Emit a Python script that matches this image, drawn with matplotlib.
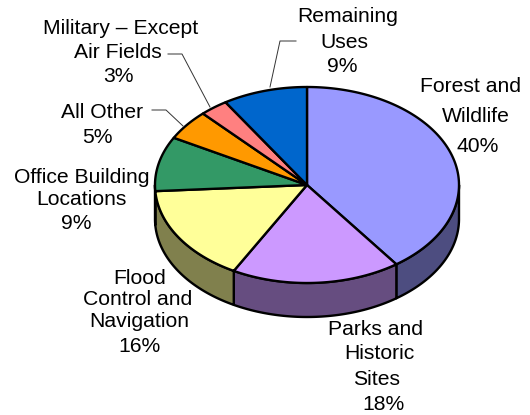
import numpy as np
import matplotlib
matplotlib.use("Agg")
import matplotlib.pyplot as plt
from matplotlib.patches import Polygon

plt.rcParams['font.family'] = ['Liberation Sans', 'DejaVu Sans']

kategorie = ["Forest and Wildlife", "Parks and Historic Sites", "Flood Control and Navigation",
             "Office Building Locations", "All Other", "Military – Except Air Fields", "Remaining Uses"]
wartosci = [40, 18, 16, 9, 5, 3, 9]
kolory = ["#9999ff", "#cc99ff", "#ffff99", "#339966", "#ff9900", "#ff8080", "#0066cc"]
boki = ["#4d4d80", "#664d80", "#80804d", "#1a4d33", "#804d00", "#804040", "#003366"]

cx, cy = 307, 185
rx, ry = 152, 98
glebokosc = 34


def punkty(a1, a2):
    # katy zgodnie z zegarem od gory
    t = np.radians(np.linspace(a1, a2, max(int(a2 - a1) * 2, 2)))
    return np.column_stack([cx + rx * np.sin(t), cy - ry * np.cos(t)])


fig = plt.figure(figsize=(5.3, 4.15), dpi=100)
ax = fig.add_axes([0, 0, 1, 1])
ax.set_xlim(0, 530)
ax.set_ylim(415, 0)
ax.axis("off")

granice = np.cumsum([0] + wartosci) * 3.6

# boki tortu (tylko przednia polowa)
for i in range(len(wartosci)):
    a1, a2 = max(granice[i], 90), min(granice[i + 1], 270)
    if a2 <= a1:
        continue
    gora = punkty(a1, a2)
    dol = (gora + [0, glebokosc])[::-1]
    ax.add_patch(Polygon(np.vstack([gora, dol]), closed=True, fc=boki[i], ec="black", lw=1.7, joinstyle="round"))

# wierzch
for i in range(len(wartosci)):
    luk = punkty(granice[i], granice[i + 1])
    ax.add_patch(Polygon(np.vstack([[cx, cy], luk]), closed=True, fc=kolory[i], ec="black", lw=1.7, joinstyle="round"))

# linie odniesienia
ax.plot([296, 280, 270], [41, 41, 87], color="#333333", lw=0.7)
ax.plot([168, 182, 210], [54, 54, 107], color="#333333", lw=0.7)
ax.plot([152, 166, 183], [110, 110, 126], color="#333333", lw=0.7)


def napis(x, y, s):
    ax.text(x, y + 6.5, s, ha="center", va="baseline", fontsize=15.2, color="black")


napis(348, 15, "Remaining")
napis(344, 42, "Uses")
napis(342, 65, "9%")
napis(471, 86, "Forest and")
napis(476, 115, "Wildlife")
napis(478, 145, "40%")
napis(376, 328, "Parks and")
napis(379, 352, "Historic")
napis(377, 378, "Sites")
napis(383, 403, "18%")
napis(140, 277, "Flood")
napis(138, 298, "Control and")
napis(139, 320, "Navigation")
napis(140, 345, "16%")
napis(82, 176, "Office Building")
napis(81, 198, "Locations")
napis(76, 222, "9%")
napis(102, 111, "All Other")
napis(97, 136, "5%")
napis(121, 27, "Military – Except")
napis(118, 52, "Air Fields")
napis(118, 76, "3%")

plt.savefig("out.png", dpi=100)
